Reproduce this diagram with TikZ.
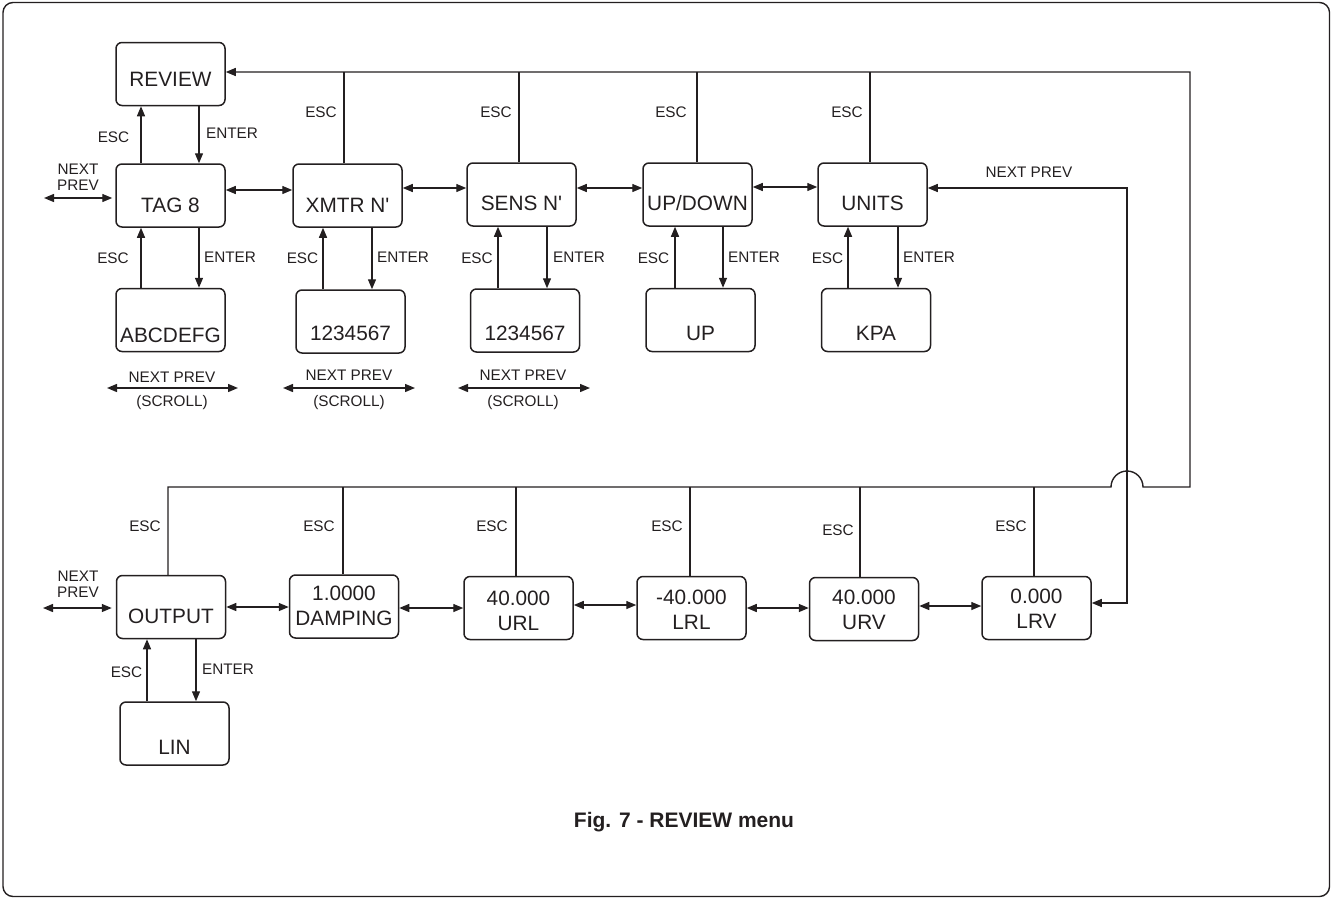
\documentclass[tikz,border=0pt]{standalone}
\usepackage{fontspec}
\setmainfont{Liberation Sans}
\newfontfamily\arialx{Liberation Sans}
\usetikzlibrary{arrows.meta,calc}
\definecolor{ink}{RGB}{35,31,32}
\begin{document}
\begin{tikzpicture}[x=1bp,y=-1bp,
  box/.style={draw=ink, rounded corners=6bp, minimum width=109bp, minimum height=63bp, inner sep=0pt, line width=1.5bp},
  big/.style={font=\arialx\fontsize{20.8bp}{25bp}\selectfont, text=ink, inner sep=0pt, align=center},
  lbl/.style={font=\arialx\fontsize{15.3bp}{16bp}\selectfont, text=ink, inner sep=0pt, align=center},
  figcap/.style={font=\arialx\bfseries\fontsize{21bp}{24bp}\selectfont, text=ink, inner sep=0pt},
  ln/.style={draw=ink, line width=1.4bp},
  arr/.style={ln, -{Triangle[length=10bp,width=8bp]}},
  dbl/.style={ln, {Triangle[length=10bp,width=8bp]}-{Triangle[length=10bp,width=8bp]}},
]
\useasboundingbox (0,0) rectangle (1332,899);
\draw[ln, rounded corners=10bp] (3,2.5) rectangle (1329.5,896.5);

% ---- top row boxes
\node[box] (review) at (170.5,74) {};
\node[box] (tag) at (170.5,195.5) {};
\node[box] (xmtr) at (347.5,195.5) {};
\node[box] (sens) at (521.5,194.5) {};
\node[box] (updown) at (697.5,194.5) {};
\node[box] (units) at (872.5,194.5) {};
% sub boxes
\node[box] (abc) at (170.5,320) {};
\node[box] (xnum) at (350.5,321.5) {};
\node[box] (snum) at (525,320.5) {};
\node[box] (up) at (700.5,320) {};
\node[box] (kpa) at (876,320) {};
% bottom row
\node[box] (output) at (171,607) {};
\node[box] (damp) at (344,606.5) {};
\node[box] (url) at (518.5,608) {};
\node[box] (lrl) at (691.5,608) {};
\node[box] (urv) at (864,609) {};
\node[box] (lrv) at (1036.5,608) {};
\node[box] (lin) at (174.5,733.5) {};

% ---- box texts
\node[big] (reviewT) at (170.5,79) {REVIEW};
\node[big] (tagT) at (170.5,205) {TAG 8};
\node[big] (xmtrT) at (347.5,205) {XMTR N'};
\node[big] (sensT) at (521.5,203) {SENS N'};
\node[big,text depth=0pt] (updownT) at (697.5,203) {UP/DOWN};
\node[big] (unitsT) at (872.5,203) {UNITS};
\node[big] (abcT) at (170.5,335) {ABCDEFG};
\node[big] (xnumT) at (350.5,333) {1234567};
\node[big] (snumT) at (525,333) {1234567};
\node[big] (upT) at (700.5,333) {UP};
\node[big] (kpaT) at (876,333) {KPA};
\node[big] (outputT) at (171,616) {OUTPUT};
\node[big] (dampT) at (344,606) {1.0000\\DAMPING};
\node[big] (urlT) at (518.5,610.5) {40.000\\URL};
\node[big] (lrlT) at (691.5,609.5) {-40.000\\LRL};
\node[big] (urvT) at (864,610) {40.000\\URV};
\node[big] (lrvT) at (1036.5,609) {0.000\\LRV};
\node[big] (linT) at (174.5,747) {LIN};

% ---- vertical ESC / ENTER arrows
\draw[arr] (tag.north -| 141,0) -- (review.south -| 141,0);
\draw[arr] (review.south -| 199,0) -- (tag.north -| 199,0);
\draw[arr] (abc.north -| 141,0) -- (tag.south -| 141,0);
\draw[arr] (tag.south -| 199,0) -- (abc.north -| 199,0);
\draw[arr] (xnum.north -| 323,0) -- (xmtr.south -| 323,0);
\draw[arr] (xmtr.south -| 372,0) -- (xnum.north -| 372,0);
\draw[arr] (snum.north -| 498,0) -- (sens.south -| 498,0);
\draw[arr] (sens.south -| 547,0) -- (snum.north -| 547,0);
\draw[arr] (up.north -| 675,0) -- (updown.south -| 675,0);
\draw[arr] (updown.south -| 723,0) -- (up.north -| 723,0);
\draw[arr] (kpa.north -| 848,0) -- (units.south -| 848,0);
\draw[arr] (units.south -| 898,0) -- (kpa.north -| 898,0);
\draw[arr] (lin.north -| 147,0) -- (output.south -| 147,0);
\draw[arr] (output.south -| 196,0) -- (lin.north -| 196,0);

\node[lbl] (e1) at (113.5,137) {ESC};
\node[lbl] (n1) at (232,133) {ENTER};
\node[lbl] (e2) at (113,258) {ESC};
\node[lbl] (n2) at (230,257) {ENTER};
\node[lbl] (e3) at (302.5,258) {ESC};
\node[lbl] (n3) at (403,257) {ENTER};
\node[lbl] (e4) at (477,258) {ESC};
\node[lbl] (n4) at (579,257) {ENTER};
\node[lbl] (e5) at (653.5,258) {ESC};
\node[lbl] (n5) at (754,257) {ENTER};
\node[lbl] (e6) at (827.5,258) {ESC};
\node[lbl] (n6) at (929,257) {ENTER};
\node[lbl] (e7) at (126.5,672) {ESC};
\node[lbl] (n7) at (228,669) {ENTER};

% ---- horizontal double arrows
\draw[dbl] (tag.east |- 0,190) -- (xmtr.west |- 0,190);
\draw[dbl] (xmtr.east |- 0,188) -- (sens.west |- 0,188);
\draw[dbl] (sens.east |- 0,188) -- (updown.west |- 0,188);
\draw[dbl] (updown.east |- 0,187) -- (units.west |- 0,187);
\draw[dbl] (output.east |- 0,607) -- (damp.west |- 0,607);
\draw[dbl] (damp.east |- 0,608) -- (url.west |- 0,608);
\draw[dbl] (url.east |- 0,605) -- (lrl.west |- 0,605);
\draw[dbl] (lrl.east |- 0,608) -- (urv.west |- 0,608);
\draw[dbl] (urv.east |- 0,606) -- (lrv.west |- 0,606);

% ---- left NEXT/PREV
\coordinate (ltop) at (44,198);
\coordinate (lbot) at (43,608);
\draw[dbl, shorten >=3bp] (ltop) -- (tag.west |- ltop);
\draw[dbl, shorten >=4bp] (lbot) -- (output.west |- lbot);
\node[lbl] (np1) at (78,177) {NEXT\\PREV};
\node[lbl] (np2) at (78,584) {NEXT\\PREV};

% ---- scroll arrows
\coordinate (s1a) at (107,388); \coordinate (s1b) at (238,388);
\coordinate (s2a) at (283,388); \coordinate (s2b) at (415,388);
\coordinate (s3a) at (458,388); \coordinate (s3b) at (590,388);
\draw[dbl] (s1a) -- (s1b);
\draw[dbl] (s2a) -- (s2b);
\draw[dbl] (s3a) -- (s3b);
\node[lbl] (sn1) at (172,377) {NEXT PREV};
\node[lbl] (sc1) at (172,403) {(SCROLL)};
\node[lbl] (sn2) at (349,375) {NEXT PREV};
\node[lbl] (sc2) at (349,403) {(SCROLL)};
\node[lbl] (sn3) at (523,375) {NEXT PREV};
\node[lbl] (sc3) at (523,403) {(SCROLL)};

% ---- big loop back to REVIEW
\draw[arr] (output.north -| 168,0) -- (168,487) -- (1111,487)
  arc[start angle=180, end angle=0, radius=16bp] -- (1190,487) -- (1190,72) -- (review.east |- 0,72);
% top ESC lines
\draw[ln] (xmtr.north -| 344,0) -- (344,72);
\draw[ln] (sens.north -| 519,0) -- (519,72);
\draw[ln] (updown.north -| 697,0) -- (697,72);
\draw[ln] (units.north -| 870,0) -- (870,72);
\node[lbl] (te1) at (321,112) {ESC};
\node[lbl] (te2) at (496,112) {ESC};
\node[lbl] (te3) at (671,112) {ESC};
\node[lbl] (te4) at (847,112) {ESC};
% bottom ESC lines
\draw[ln] (damp.north -| 343,0) -- (343,487);
\draw[ln] (url.north -| 516,0) -- (516,487);
\draw[ln] (lrl.north -| 690,0) -- (690,487);
\draw[ln] (urv.north -| 860,0) -- (860,487);
\draw[ln] (lrv.north -| 1034,0) -- (1034,487);
\node[lbl] (be1) at (145,526) {ESC};
\node[lbl] (be2) at (319,526) {ESC};
\node[lbl] (be3) at (492,526) {ESC};
\node[lbl] (be4) at (667,526) {ESC};
\node[lbl] (be5) at (838,530) {ESC};
\node[lbl] (be6) at (1011,526) {ESC};

% ---- right NEXT PREV
\draw[dbl] (units.east |- 0,188) -- (1127,188) -- (1127,603) -- (lrv.east |- 0,603);
\node[lbl] (rnp) at (1029,172) {NEXT PREV};

% ---- caption
\node[figcap] (caption) at (684,822) {Fig. 7 - REVIEW menu};
\end{tikzpicture}
\end{document}
